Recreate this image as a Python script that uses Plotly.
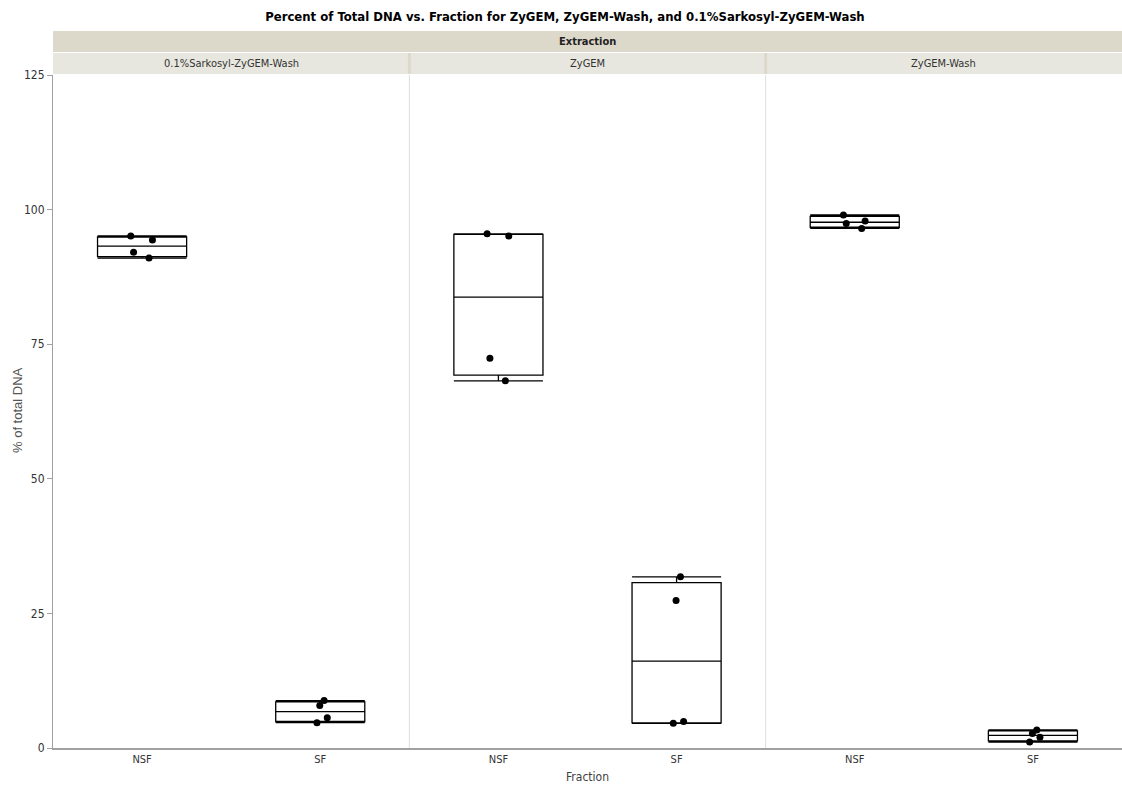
import numpy as np
import plotly.graph_objects as go

# ---- data ----
extractions = ["0.1%Sarkosyl-ZyGEM-Wash", "ZyGEM", "ZyGEM-Wash"]
fractions = ["NSF", "SF"]
sark_nsf = [95.1, 94.35, 92.1, 91.0]
sark_sf = [8.8, 7.9, 5.6, 4.7]
zygem_nsf = [95.1, 95.5, 72.4, 68.2]
zygem_sf = [31.8, 27.4, 4.6, 4.9]
wash_nsf = [99.0, 97.9, 97.4, 96.5]
wash_sf = [3.34, 2.7, 2.0, 1.1]
y_ticks = [0, 25, 50, 75, 100, 125]

groups = {
    "0.1%Sarkosyl-ZyGEM-Wash": [sark_nsf, sark_sf],
    "ZyGEM": [zygem_nsf, zygem_sf],
    "ZyGEM-Wash": [wash_nsf, wash_sf],
}

FONT = "DejaVu Sans Condensed, Liberation Sans Narrow, sans-serif"
L, R, T, B = 53, 0, 75, 37
W, H = 1122, 785
pw = W - L - R
ph = H - T - B

fig = go.Figure()
n = len(extractions)
doms = [(i / n, (i + 1) / n) for i in range(n)]

for i, ext in enumerate(extractions):
    xa = "x" if i == 0 else f"x{i+1}"
    q1s, meds, q3s, los, his = [], [], [], [], []
    for vals in groups[ext]:
        v = np.array(vals)
        q1s.append(float(np.percentile(v, 25, method="weibull")))
        meds.append(float(np.percentile(v, 50, method="weibull")))
        q3s.append(float(np.percentile(v, 75, method="weibull")))
        los.append(float(v.min()))
        his.append(float(v.max()))
    fig.add_trace(go.Box(
        x=fractions, q1=q1s, median=meds, q3=q3s,
        lowerfence=los, upperfence=his,
        width=0.5, whiskerwidth=1, boxpoints=False,
        line=dict(color="black", width=1.3),
        fillcolor="rgba(0,0,0,0)", xaxis=xa, yaxis="y",
        showlegend=False, hoverinfo="skip",
    ))
    px, py = [], []
    for f, vals in zip(fractions, groups[ext]):
        px += [f] * len(vals)
        py += vals
    fig.add_trace(go.Box(
        x=px, y=py, width=0.5, boxpoints="all", jitter=0.3, pointpos=0,
        line=dict(width=0, color="rgba(0,0,0,0)"),
        fillcolor="rgba(0,0,0,0)",
        marker=dict(color="black", size=7),
        xaxis=xa, yaxis="y", showlegend=False,
    ))

layout = dict(
    width=W, height=H,
    margin=dict(l=L, r=R, t=T, b=B, autoexpand=False),
    paper_bgcolor="white", plot_bgcolor="white",
    font=dict(family=FONT, color="#404040", size=12),
    title=dict(
        text="<b>Percent of Total DNA vs. Fraction for ZyGEM, ZyGEM-Wash, and 0.1%Sarkosyl-ZyGEM-Wash</b>",
        x=0.5035, xanchor="center", y=1 - 16 / H, yanchor="middle",
        font=dict(family=FONT, size=13, color="black"),
    ),
    yaxis=dict(
        range=[0, 125], tickvals=y_ticks, ticks="outside", ticklen=5,
        tickcolor="#a0a0a0", showline=True, linecolor="#a0a0a0", linewidth=1,
        showgrid=False, zeroline=False, automargin=False,
        tickfont=dict(family=FONT, size=12, color="#333333"),
    ),
)
for i in range(n):
    key = "xaxis" if i == 0 else f"xaxis{i+1}"
    ax = dict(
        domain=list(doms[i]), anchor="y", type="category",
        categoryorder="array", categoryarray=fractions,
        range=[-0.5, 1.5], showgrid=False, zeroline=False, automargin=False,
        showline=True, linecolor="#a0a0a0", linewidth=1.5,
        ticks="", tickfont=dict(family=FONT, size=11, color="#333333"),
    )
    layout[key] = ax
fig.update_layout(**layout)

# strip headers
top_band = (1 + (T - 52) / ph, 1 + (T - 31) / ph)
sub_band = (1 + (T - 74) / ph, 1 + (T - 53) / ph)
shapes = [
    dict(type="rect", xref="paper", yref="paper", x0=0, x1=1,
         y0=top_band[0], y1=top_band[1], fillcolor="#dcd9cb", line=dict(width=0), layer="below"),
    dict(type="rect", xref="paper", yref="paper", x0=0, x1=1,
         y0=sub_band[0], y1=sub_band[1], fillcolor="#e8e7df", line=dict(width=0), layer="below"),
]
for i in range(1, n):
    xb = doms[i][0]
    shapes.append(dict(type="line", xref="paper", yref="paper", x0=xb, x1=xb,
                       y0=0, y1=1, line=dict(color="#dedede", width=1)))
    shapes.append(dict(type="line", xref="paper", yref="paper", x0=xb, x1=xb,
                       y0=sub_band[0], y1=sub_band[1], line=dict(color="#dcd9cb", width=3)))
annotations = [
    dict(text="<b>Extraction</b>", xref="paper", yref="paper", x=0.5, xanchor="center",
         y=(top_band[0] + top_band[1]) / 2, showarrow=False, yanchor="middle",
         font=dict(family=FONT, size=11, color="#222222")),
    dict(text="% of total DNA", xref="paper", yref="paper", x=(17 - L) / pw,
         xanchor="center", y=1 - (410 - T) / ph, yanchor="middle", textangle=-90,
         showarrow=False,
         font=dict(family="Liberation Sans, Arial, sans-serif", size=13, color="#555555")),
    dict(text="Fraction", xref="paper", yref="paper", x=0.5, xanchor="center",
         y=-(777 - (H - B)) / ph, yanchor="middle", showarrow=False,
         font=dict(family=FONT, size=12, color="#404040")),
]
for i, ext in enumerate(extractions):
    annotations.append(dict(text=ext, xref="paper", yref="paper",
                            x=(doms[i][0] + doms[i][1]) / 2, xanchor="center",
                            y=(sub_band[0] + sub_band[1]) / 2, yanchor="middle",
                            showarrow=False, font=dict(family=FONT, size=11, color="#333333")))
fig.update_layout(shapes=shapes, annotations=annotations)

fig.write_html("out.html", config={"displayModeBar": False},
               post_script="document.body.style.margin='0';document.body.style.padding='0';")
